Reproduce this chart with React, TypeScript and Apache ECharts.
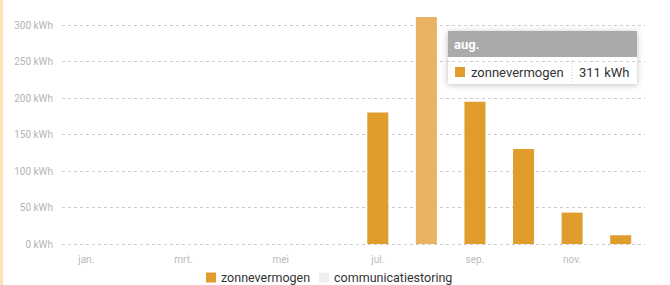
import React, { useEffect, useRef } from "react";
import * as echarts from "echarts";

const months = ["jan.", "feb.", "mrt.", "apr.", "mei", "jun.", "jul.", "aug.", "sep.", "okt.", "nov.", "dec."];
const solar = [null, null, null, null, null, null, 180, 311, 195, 130, 43, 12];
const outage = [null, null, null, null, null, null, null, null, null, null, null, null];
const yTicks = [0, 50, 100, 150, 200, 250, 300];
const highlightIndex = 7;

const ORANGE = "#e09c2c";
const ORANGE_LIGHT = "#e8b464";
const FONT = "Roboto, 'Noto Sans', sans-serif";

export default function App() {
  const ref = useRef<HTMLDivElement>(null);
  useEffect(() => {
    if (!ref.current) return;
    const chart = echarts.init(ref.current, undefined, { renderer: "svg" });
    const solarData = solar.map((v, i) =>
      i === highlightIndex ? { value: v, itemStyle: { color: ORANGE_LIGHT } } : v
    );
    chart.setOption({
      animation: false,
      textStyle: { fontFamily: FONT },
      grid: { left: 62, right: 25, top: 25, bottom: 41 },
      xAxis: {
        type: "category",
        data: months,
        axisLine: { show: false },
        axisTick: { show: false },
        axisLabel: { interval: 1, color: "#bbbbbb", fontSize: 10, margin: 10, fontFamily: FONT },
      },
      yAxis: {
        type: "value",
        min: yTicks[0],
        max: yTicks[yTicks.length - 1],
        interval: 50,
        axisLabel: { color: "#b4b4b4", fontSize: 10, margin: 9, formatter: "{value} kWh", fontFamily: FONT },
        splitLine: { lineStyle: { color: "#cccccc", type: [3, 3], width: 1 } },
        axisLine: { show: false },
        axisTick: { show: false },
      },
      legend: {
        bottom: -4,
        left: 201,
        itemWidth: 10,
        itemHeight: 10,
        itemGap: 9,
        icon: "rect",
        textStyle: { color: "#333", fontSize: 12.5, fontFamily: FONT },
        data: ["zonnevermogen", "communicatiestoring"],
      },
      series: [
        { name: "zonnevermogen", type: "bar", stack: "a", barWidth: 21, clip: false, data: solarData, itemStyle: { color: ORANGE } },
        { name: "communicatiestoring", type: "bar", stack: "a", barWidth: 21, clip: false, data: outage, itemStyle: { color: "#eeeeee" } },
      ],
      graphic: [
        { type: "rect", left: 0, top: 0, shape: { width: 3, height: 285 }, style: { fill: "#fde3b3" } },
        {
          type: "group",
          left: 448,
          top: 31,
          children: [
            { type: "rect", shape: { x: 0, y: 0, width: 189, height: 53 }, style: { fill: "#fff", shadowBlur: 6, shadowColor: "rgba(0,0,0,0.25)", shadowOffsetY: 1 } },
            { type: "rect", shape: { x: 0, y: 0, width: 189, height: 26 }, style: { fill: "#aaaaaa" } },
            { type: "text", x: 6, y: 13, style: { text: months[highlightIndex], fill: "#fff", font: `bold 13px ${FONT}`, verticalAlign: "middle" } },
            { type: "rect", shape: { x: 7, y: 36, width: 10, height: 10 }, style: { fill: ORANGE } },
            { type: "text", x: 23, y: 41, style: { text: "zonnevermogen", fill: "#333", font: `13px ${FONT}`, verticalAlign: "middle" } },
            { type: "line", shape: { x1: 124, y1: 29, x2: 124, y2: 51 }, style: { stroke: "#cccccc", lineDash: [1, 2] } },
            { type: "text", x: 131, y: 41, style: { text: `${solar[highlightIndex]} kWh`, fill: "#333", font: `13px ${FONT}`, verticalAlign: "middle" } },
          ],
        },
      ],
    });
    return () => chart.dispose();
  }, []);
  return <div ref={ref} style={{ width: 670, height: 285, position: "absolute", left: 0, top: 0 }} />;
}
